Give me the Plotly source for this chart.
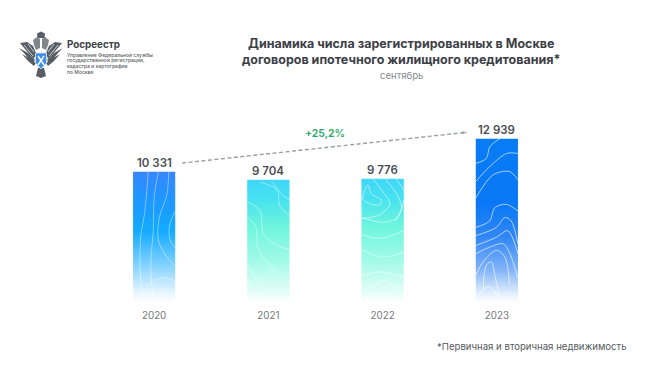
import plotly.graph_objects as go

W, H = 650, 367
years = ["2020", "2021", "2022", "2023"]
values = [10331, 9704, 9776, 12939]
labels = ["10 331", "9 704", "9 776", "12 939"]
growth_label = "+25,2%"
title_text = "Динамика числа зарегистрированных в Москве<br>договоров ипотечного жилищного кредитования*"
subtitle_text = "сентябрь"
footnote_text = "*Первичная и вторичная недвижимость"
org_name = "Росреестр"
org_lines = ["Управление Федеральной службы", "государственной регистрации,", "кадастра и картографии", "по Москве"]

BLUE_A = [(0, (255,255,255)), (.07, (235,247,255)), (.3, (125,208,255)), (.55, (20,170,255)), (.8, (30,150,255)), (1, (56,136,255))]
TEAL = [(0, (255,255,255)), (.1, (225,253,247)), (.35, (160,250,232)), (.62, (110,245,220)), (.85, (70,225,240)), (1, (64,214,248))]
BLUE_B = [(0, (255,255,255)), (.06, (225,238,253)), (.2, (130,180,248)), (.4, (50,135,245)), (.6, (10,120,245)), (1, (8,124,245))]
gradients = [BLUE_A, TEAL, TEAL, BLUE_B]
contour_alpha = [0.42, 0.42, 0.5, 0.62]

def mix(stops, t):
    for (a, ca), (b, cb) in zip(stops, stops[1:]):
        if t <= b:
            f = (t - a) / (b - a)
            return "rgb(%d,%d,%d)" % tuple(round(p + (q - p) * f) for p, q in zip(ca, cb))
    return "rgb(%d,%d,%d)" % stops[-1][1]

N = 70
xs, bases, heights, colors = [], [], [], []
for i, v in enumerate(values):
    for k in range(N):
        xs.append(i)
        bases.append(v * k / N)
        heights.append(v / N * (1.6 if k < N - 1 else 1))
        colors.append(mix(gradients[i], (k + .5) / N))

fig = go.Figure()
fig.add_trace(go.Bar(x=xs, y=heights, base=bases, width=0.368, marker=dict(color=colors, line=dict(width=0)), hoverinfo="skip"))

# decorative contour texture, as fractions of each bar (x across, y down from its top)
contours = {
 0: [[(.36,0),(.28,.3),(.18,.5),(.17,.75),(.24,1)],
     [(.6,0),(.5,.2),(.48,.45),(.42,.7),(.48,1)],
     [(.85,0),(.8,.18),(.63,.34),(.6,.52),(.8,.65),(1,.72)],
     [(1,.3),(.86,.42),(.88,.52),(1,.58)],
     [(.3,.88),(.65,.81),(1,.83)]],
 1: [[(0,.18),(.3,.25),(.38,.44),(.7,.53),(1,.57)],
     [(0,.3),(.2,.38),(.25,.55),(.5,.68),(.8,.78)],
     [(.3,.02),(.7,.08),(.78,.22),(1,.29)],
     [(.6,.02),(.85,.13),(1,.16)],
     [(0,.69),(.3,.86),(.46,1)],
     [(0,.8),(.15,.92),(.25,1)]],
 2: [[(.03,.16),(.15,.05),(.23,.12),(.47,.17),(.43,.21),(.19,.2),(.03,.16)],
     [(.27,0),(.47,.09),(.67,.2),(.43,.29),(0,.32)],
     [(0,.31),(.5,.35),(.86,.31),(1,.17)],
     [(.56,0),(.83,.12),(.95,.23),(.79,.34)],
     [(.83,0),(1,.09)],
     [(0,.45),(.43,.48),(1,.42)],
     [(0,.57),(.5,.63),(1,.59)],
     [(0,.78),(.43,.75),(1,.79)],
     [(.19,.89),(.5,.82),(1,.92)]],
 3: [[(0,.15),(.25,.12),(.33,.05),(.57,0)],
     [(0,.26),(.33,.17),(.73,.09),(1,.09)],
     [(0,.36),(.41,.22),(.8,.2),(1,.25)],
     [(0,.54),(.33,.5),(.45,.42),(.73,.4),(1,.44)],
     [(0,.59),(.49,.54),(.69,.48),(.84,.5),(1,.64)],
     [(0,.65),(.49,.6),(.76,.56),(1,.7)],
     [(0,.7),(.33,.66),(.65,.64),(.81,.7),(1,.85)],
     [(0,.83),(.17,.75),(.49,.68),(.69,.72),(.8,.89)],
     [(.17,.93),(.25,.77),(.37,.75),(.45,.83),(.57,.97)],
     [(0,.97),(.3,.9),(.6,1)]],
}
BAR_W = 0.368
for i, lines in contours.items():
    top = values[i]
    for line in lines:
        fig.add_trace(go.Scatter(
            x=[i - BAR_W / 2 + a * BAR_W for a, b in line],
            y=[top * (1 - b) for a, b in line],
            mode="lines", line=dict(color=f"rgba(255,255,255,{contour_alpha[i]})", width=1, shape="spline", smoothing=0.9),
            hoverinfo="skip"))

for i, (v, t) in enumerate(zip(values, labels)):
    fig.add_annotation(x=i, y=v, text=t, showarrow=False, xanchor="center", yanchor="bottom", yshift=0,
                       font=dict(family="Inter", size=11.5, color="#4a4e54", weight=600))

# growth arrow
arrow_x = [0.245, 2.735]
arrow_y = [11020, 13440]
fig.add_trace(go.Scatter(x=arrow_x, y=arrow_y, mode="lines", line=dict(color="#9a9ea3", width=1.4, dash="4px,2.5px"), hoverinfo="skip"))
fig.add_trace(go.Scatter(x=[arrow_x[0], arrow_x[1] + 0.01], y=[arrow_y[0], arrow_y[1]], mode="markers",
                         marker=dict(symbol="arrow", size=[0, 6], angleref="previous", color="#9a9ea3", line=dict(width=0)), hoverinfo="skip"))

def px(x): return x / W
def py(y): return 1 - y / H

def note(x, y, text, size, color, anchor="center", weight=400, family="Inter"):
    fig.add_annotation(xref="paper", yref="paper", x=px(x), y=py(y), text=text, showarrow=False, xanchor=anchor,
                       yanchor="middle", align="center", font=dict(family=family, size=size, color=color, weight=weight))

note(325, 133, growth_label, 10.5, "#2ba868", weight=600)
fig.add_annotation(xref="paper", yref="paper", x=px(401), y=py(51.5), text=title_text, showarrow=False, xanchor="center",
                   yanchor="middle", align="center", font=dict(family="Inter", size=12.5, color="#3c4046", weight=700))
note(401, 76, subtitle_text, 9.6, "#85898e")
note(629, 346, footnote_text, 9.6, "#55595e", anchor="right")
note(65, 44, org_name, 9.8, "#3c4046", anchor="left", weight=700)
for y, t in zip([54.5, 60.3, 66, 72], org_lines):
    note(65, y, t, 5.0, "#5a5e63", anchor="left", weight=500)

# emblem
def path(pts, close=True):
    return "M" + " L".join(f"{px(x):.5f},{py(y):.5f}" for x, y in pts) + (" Z" if close else "")

def poly(pts, fill):
    fig.add_shape(type="path", xref="paper", yref="paper", path=path(pts), fillcolor=fill, line=dict(width=0))

GREY = "#565d64"
left_wing = [[(20,43),(27,42),(33,46),(36,53),(34,59),(30,55),(25,49)],
             [(19,48),(24,53),(29,59),(33,63),(35,60),(28,53)],
             [(22,54),(28,61),(34,66),(36,63),(29,58)]]
for wing in left_wing:
    poly(wing, GREY)
    poly([(82 - x, y) for x, y in wing], GREY)
for x0, y0, x1, y1 in [(24,45,33,56), (28,44,34,52)]:
    for a, b in [(x0, x1), (82 - x0, 82 - x1)]:
        fig.add_shape(type="line", xref="paper", yref="paper", x0=px(a), y0=py(y0), x1=px(b), y1=py(y1), line=dict(color="white", width=0.7))
poly([(33,40),(37,37),(40,39),(40,48),(36,50),(34,45)], "#7f868c")
poly([(49,40),(45,37),(42,39),(42,48),(46,50),(48,45)], "#7f868c")
poly([(37,33.5),(41,31.5),(45,33.5),(44.5,38),(37.5,38)], GREY)
poly([(38,68),(44,68),(46,76),(41,78),(36,76)], GREY)
fig.add_shape(type="path", xref="paper", yref="paper", path=path([(35.5,53),(46.5,53),(46.5,63),(41,69),(35.5,63)]), fillcolor="#3f8fe8", line=dict(color="#dfe6ec", width=0.8))
fig.add_shape(type="line", xref="paper", yref="paper", x0=px(38), y0=py(56), x1=px(44), y1=py(65), line=dict(color="white", width=1.4))
fig.add_shape(type="line", xref="paper", yref="paper", x0=px(44), y0=py(56), x1=px(38), y1=py(65), line=dict(color="white", width=1.4))

fig.update_layout(
    width=W, height=H, margin=dict(l=0, r=0, t=0, b=0), paper_bgcolor="white", plot_bgcolor="white",
    showlegend=False, barmode="overlay",
    xaxis=dict(domain=[px(97), px(554)], range=[-0.5, 3.5], tickmode="array", tickvals=[0, 1, 2, 3], ticktext=years,
               showgrid=False, zeroline=False, showline=False, ticks="", ticklabelstandoff=5,
               tickfont=dict(family="Inter", size=9.8, color="#75797e"), fixedrange=True),
    yaxis=dict(domain=[py(303), py(100)], range=[0, 203 / 0.0127], visible=False, fixedrange=True),
)
fig.write_html("out.html", config={"displayModeBar": False},
               post_script="document.body.style.margin='0';document.documentElement.style.overflow='hidden';")
